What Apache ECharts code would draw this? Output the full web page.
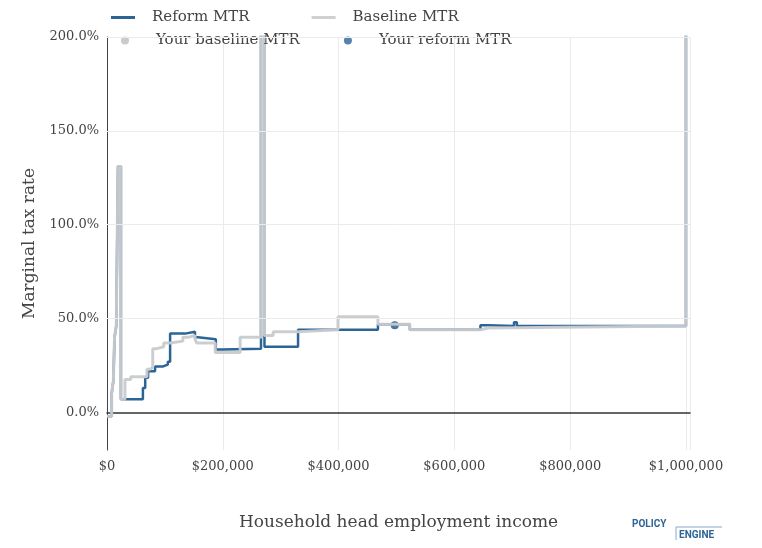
<!DOCTYPE html>
<html lang="en">
<head>
<meta charset="utf-8">
<title>Marginal tax rate</title>
<script src="https://cdn.jsdelivr.net/npm/echarts@6/dist/echarts.min.js"></script>
<style>
html, body { margin: 0; padding: 0; background: #fff; }
#chart { width: 762px; height: 548px; }
</style>
</head>
<body>
<div id="chart"></div>
<script type="text/javascript">
// income in $1000s, rate in %
var baselineIncome = [0, 8, 11, 13, 16, 19, 24, 31, 41, 69, 74, 79, 86, 98, 109, 131, 140, 152, 155, 187, 230, 266, 272, 287, 330, 399, 468, 523, 645, 658, 1000, 1007];
var baselineRate = [-2, 10, 17, 40, 46, 131, 7, 17.5, 19, 23, 24, 34, 35, 37, 38, 40, 41, 39, 37, 32, 40, 300, 41, 43, 44, 51, 47, 44, 45, 46, 300, 300];
var reformIncome = [0, 8, 11, 13, 16, 19, 24, 62, 66, 71, 83, 97, 105, 109, 135, 152, 157, 188, 199, 266, 272, 330, 468, 523, 645, 658, 703, 708, 1000, 1007];
var reformRate = [-2, 10, 17, 40, 46, 131, 7, 13, 18.5, 22, 24.5, 25.5, 27, 42, 43, 40, 39, 33.5, 34, 300, 35, 44, 47, 44, 46.5, 46, 48, 46, 300, 300];
var yourPoint = [497, 46.5];
var yTicks = [0, 50, 100, 150, 200];

function pairs(xs, ys) {
	var out = [];
	for (var i = 0; i < xs.length; i++) out.push([xs[i] * 1000, ys[i]]);
	return out;
}

var font = 'DejaVu Serif';
var myChart = echarts.init(document.getElementById('chart'));
var option = {
	animation: false,
	textStyle: { fontFamily: font },
	grid: { left: 107, right: 72, top: 37, bottom: 98 },
	legend: [{
		left: 106, top: 5, itemWidth: 24, itemHeight: 3, itemGap: 62,
		textStyle: { fontFamily: font, fontSize: 15, color: '#444', padding: [0, 0, 0, 12] },
		data: [{ name: 'Reform MTR', icon: 'rect', itemStyle: { color: '#2c6496' } },
		       { name: 'Baseline MTR', icon: 'rect', itemStyle: { color: '#d0d0d0' } }]
	}, {
		left: 116, top: 28, itemWidth: 8, itemHeight: 8, itemGap: 44,
		textStyle: { fontFamily: font, fontSize: 15, color: '#444', padding: [0, 0, 0, 22] },
		data: [{ name: 'Your baseline MTR', icon: 'circle' }, { name: 'Your reform MTR', icon: 'circle' }]
	}],
	xAxis: {
		type: 'value', min: 0, max: 1007000, interval: 200000,
		name: 'Household head employment income', nameLocation: 'middle', nameGap: 64,
		nameTextStyle: { fontFamily: font, fontSize: 17, color: '#444' },
		axisLine: { onZero: true, lineStyle: { color: '#333', width: 1.5 } },
		axisTick: { show: false },
		axisLabel: { fontFamily: font, fontSize: 13, color: '#444', margin: 10,
			formatter: function (v) { return '$' + v.toLocaleString('en-US'); } },
		splitLine: { lineStyle: { color: '#ebebeb' } }
	},
	yAxis: {
		type: 'value', min: -20, max: 200,
		name: 'Marginal tax rate', nameLocation: 'middle', nameGap: 68,
		nameTextStyle: { fontFamily: font, fontSize: 17, color: '#444' },
		axisLine: { show: true, onZero: false, lineStyle: { color: '#444' } },
		axisTick: { show: false, customValues: yTicks },
		axisLabel: { fontFamily: font, fontSize: 13, color: '#444', customValues: yTicks,
			formatter: function (v) { return v.toFixed(1) + '%'; } },
		splitLine: { show: false }
	},
	series: [{
		name: 'grid', type: 'line', data: [], silent: true,
		markLine: { symbol: 'none', silent: true, label: { show: false },
			lineStyle: { color: '#ebebeb', type: 'solid', width: 1 },
			data: yTicks.slice(1).map(function (v) { return { yAxis: v }; }) }
	}, {
		name: 'Reform MTR', type: 'line', step: 'end', showSymbol: false,
		data: pairs(reformIncome, reformRate),
		lineStyle: { color: '#2c6496', width: 2.5 }, itemStyle: { color: '#2c6496' }
	}, {
		name: 'Baseline MTR', type: 'line', step: 'end', showSymbol: false,
		data: pairs(baselineIncome, baselineRate),
		lineStyle: { color: 'rgba(200,203,206,0.95)', width: 3 }, itemStyle: { color: '#d0d0d0' }
	}, {
		name: 'Your baseline MTR', type: 'scatter', symbolSize: 8,
		data: [[yourPoint[0] * 1000, yourPoint[1]]], itemStyle: { color: '#bdbdbd' }
	}, {
		name: 'Your reform MTR', type: 'scatter', symbolSize: 8,
		data: [[yourPoint[0] * 1000, yourPoint[1]]], itemStyle: { color: '#2c6496' }
	}],
	graphic: [{
		type: 'text', left: 632, top: 519,
		style: { text: 'POLICY', fontFamily: 'Roboto', fontWeight: 'bold', fontSize: 10, fill: '#2c6496' }
	}, {
		type: 'line', shape: { x1: 676, y1: 527, x2: 722, y2: 527 }, style: { stroke: '#8aa8c8', lineWidth: 1 }
	}, {
		type: 'line', shape: { x1: 676, y1: 527, x2: 676, y2: 540 }, style: { stroke: '#8aa8c8', lineWidth: 1 }
	}, {
		type: 'text', left: 679, top: 530,
		style: { text: 'ENGINE', fontFamily: 'Roboto', fontWeight: 'bold', fontSize: 10, fill: '#2c6496' }
	}]
};
myChart.setOption(option);
</script>
</body>
</html>
